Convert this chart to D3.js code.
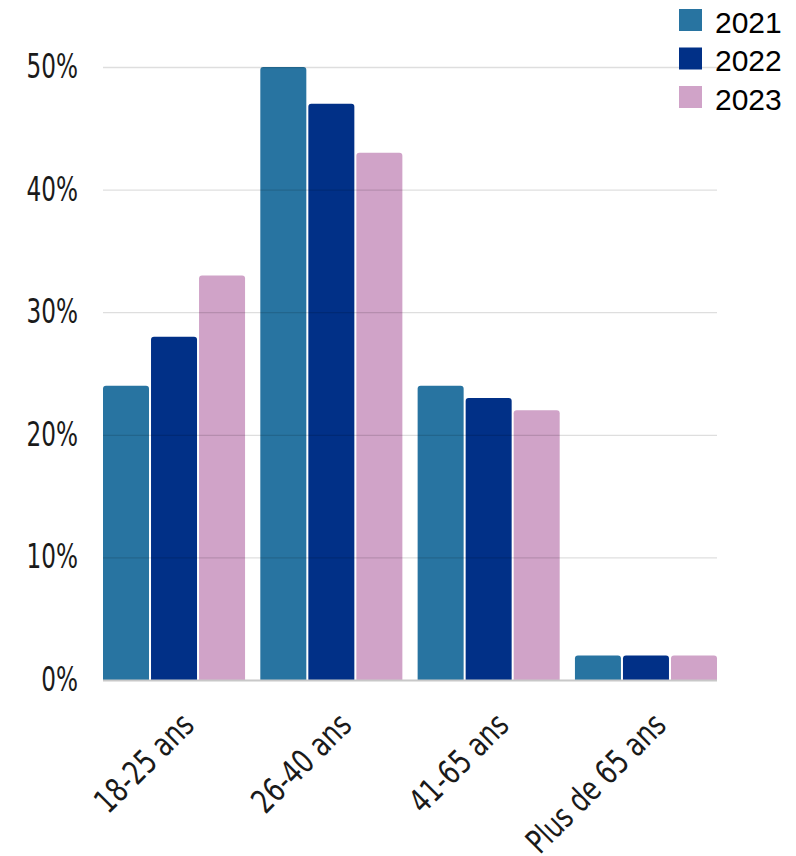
<!DOCTYPE html>
<html>
<head>
<meta charset="utf-8">
<script src="https://cdn.jsdelivr.net/npm/d3@7"></script>
<style>
  html, body { margin: 0; padding: 0; background: #fff; }
  svg { display: block; }
</style>
</head>
<body>
<svg id="chart" width="796" height="856"></svg>
<script>
const categories = ["18-25 ans", "26-40 ans", "41-65 ans", "Plus de 65 ans"];
const seriesNames = ["2021", "2022", "2023"];
const values2021 = [0.24, 0.50, 0.24, 0.02];
const values2022 = [0.28, 0.47, 0.23, 0.02];
const values2023 = [0.33, 0.43, 0.22, 0.02];
const yTicks = [0, 0.1, 0.2, 0.3, 0.4, 0.5];
const colors = ["#2874A1", "#013087", "#D0A3C8"];

const seriesValues = [values2021, values2022, values2023];
const data = categories.map((c, i) => ({
  category: c,
  values: seriesNames.map((s, j) => ({ series: s, value: seriesValues[j][i], color: colors[j] }))
}));

const svg = d3.select("#chart");
const mLeft = 103, mRight = 717, mTop = 67, mBottom = 680;
const axisFont = '"DejaVu Sans Condensed", "DejaVu Sans", sans-serif';
const squeeze = 0.78;

const x0 = d3.scaleBand().domain(categories).range([mLeft, mRight]).paddingInner(0.097).paddingOuter(0);
const x1 = d3.scaleBand().domain(seriesNames).range([0, x0.bandwidth()]).paddingInner(0.042).paddingOuter(0);
const y = d3.scaleLinear().domain([0, 0.5]).range([mBottom, mTop]);

// bars
const rad = 3;
function topRounded(x, yTop, w, h) {
  const rr = Math.min(rad, h, w / 2);
  return `M${x},${yTop + h}V${yTop + rr}Q${x},${yTop} ${x + rr},${yTop}H${x + w - rr}Q${x + w},${yTop} ${x + w},${yTop + rr}V${yTop + h}Z`;
}
const groups = svg.append("g").selectAll("g").data(data).join("g")
  .attr("transform", d => `translate(${x0(d.category)},0)`);
groups.selectAll("path").data(d => d.values).join("path")
  .attr("d", d => topRounded(x1(d.series), y(d.value), x1.bandwidth(), y(0) - y(d.value)))
  .attr("fill", d => d.color);

// y axis + gridlines
const yAxis = d3.axisLeft(y).tickValues(yTicks).tickFormat(d3.format(".0%"))
  .tickSize(-(mRight - mLeft)).tickPadding(25);
const ga = svg.append("g").attr("transform", `translate(${mLeft},0)`).call(yAxis);
ga.select(".domain").remove();
ga.selectAll(".tick line")
  .attr("stroke", d => d === 0 ? "#c8c8c8" : "rgba(0,0,0,0.13)")
  .attr("stroke-width", d => d === 0 ? 2 : 1.3);
ga.selectAll(".tick text")
  .attr("fill", "#1a1a1a")
  .attr("x", -25 / squeeze)
  .attr("transform", `scale(${squeeze},1)`)
  .style("font-family", axisFont)
  .style("font-size", "33px");

// x labels
const xAxis = d3.axisBottom(x0).tickSize(0).tickPadding(0);
const gx = svg.append("g").attr("transform", `translate(0,${mBottom})`).call(xAxis);
gx.select(".domain").remove();
gx.selectAll(".tick text")
  .attr("fill", "#1a1a1a")
  .attr("text-anchor", "end")
  .attr("dy", null)
  .attr("y", null)
  .attr("transform", "translate(22,47) rotate(-45) scale(0.84,1)")
  .style("font-family", axisFont)
  .style("font-size", "33px");

// legend
const legend = svg.append("g").selectAll("g").data(seriesNames).join("g")
  .attr("transform", (d, i) => `translate(679,${9 + i * 38.5})`);
legend.append("rect").attr("width", 23).attr("height", 22).attr("fill", (d, i) => colors[i]);
legend.append("text").attr("x", 36).attr("y", 23.5).text(d => d)
  .attr("fill", "#000")
  .style("font-family", '"Liberation Sans", Arial, sans-serif')
  .style("font-size", "30px");
</script>
</body>
</html>
